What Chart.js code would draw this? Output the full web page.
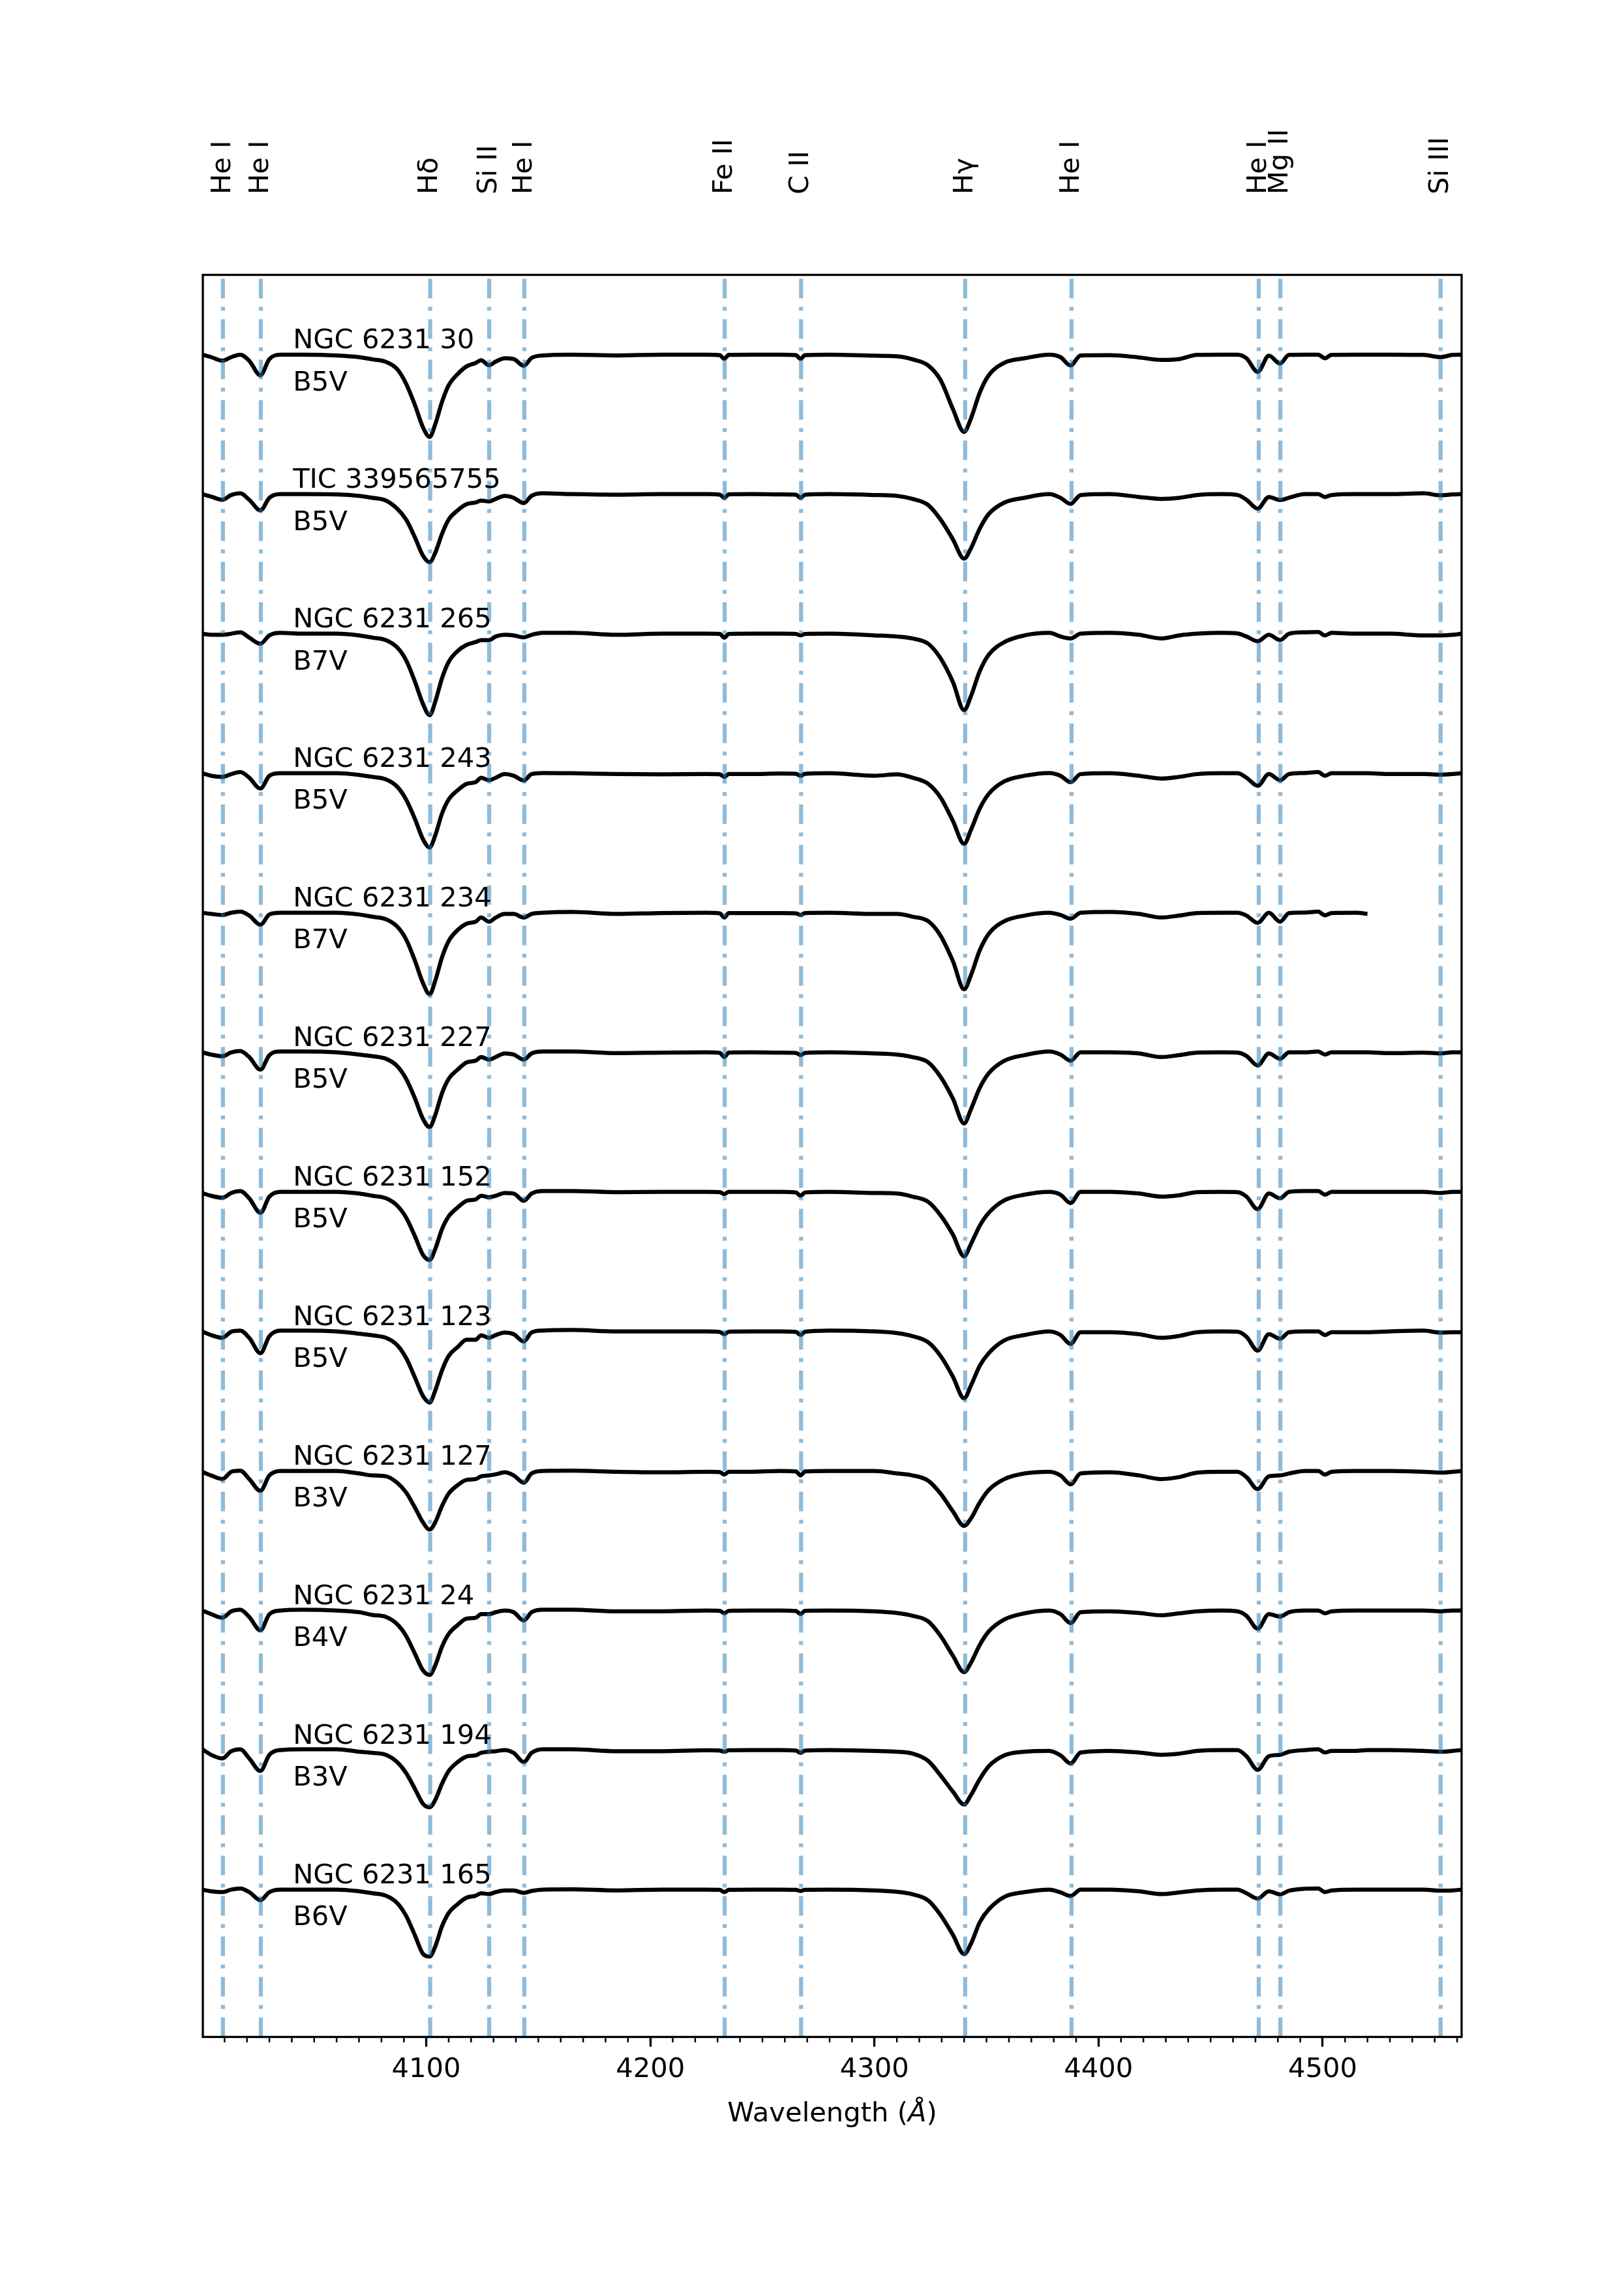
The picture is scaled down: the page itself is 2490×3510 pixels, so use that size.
<!DOCTYPE html>
<html><head><meta charset="utf-8">
<script src="https://cdn.jsdelivr.net/npm/chart.js@4.4.1/dist/chart.umd.min.js"></script>
<style>html,body{margin:0;padding:0;background:#fff;}canvas{display:block;}</style>
</head><body>
<canvas id="c" width="2490" height="3510"></canvas>
<script>
// Wavelength grid (Angstrom), shared by all spectra
const WAVE = [
 4000,4004,4009,4013,4017,4021,4026,4030,4035,4045,
 4060,4070,4076,4082,4087,4091,4095,4098.5,4101.5,4104,
 4107,4110,4114,4118,4122,4124.5,4128,4131,4135,4139,
 4143.5,4147,4152,4165,4185,4205,4225,4231,4233,4235,
 4245,4258,4265,4267,4269,4280,4300,4310,4317,4324,
 4329.5,4335,4340,4343,4347,4351,4358,4367,4378,4383,
 4387.5,4392,4405,4418,4428,4436,4444,4455,4462,4466,
 4471,4476,4481,4485,4492,4498,4501,4504,4515,4520,
 4530,4545,4552.5,4558,4562];

// Normalised flux for each star (before vertical offset)
const FLUX_NGC6231_30 = [
 1.000,0.991,0.978,0.991,1.000,0.978,0.926,0.984,1.000,1.000,
 0.997,0.991,0.983,0.974,0.948,0.896,0.818,0.740,0.705,0.750,
 0.830,0.890,0.930,0.958,0.970,0.980,0.962,0.975,0.987,0.984,
 0.960,0.988,0.997,1.000,0.997,1.000,1.000,0.998,0.985,0.999,
 1.000,1.000,0.998,0.985,0.998,1.000,0.996,0.994,0.983,0.961,
 0.909,0.805,0.723,0.770,0.864,0.926,0.971,0.987,1.000,0.991,
 0.961,0.997,0.998,0.990,0.981,0.984,0.999,1.000,1.000,0.987,
 0.938,0.996,0.968,0.999,1.000,1.000,0.987,0.999,1.000,1.000,
 1.000,0.999,0.991,0.999,1.000];
const FLUX_TIC339565755 = [
 1.000,0.991,0.980,0.997,1.003,0.980,0.942,0.987,1.000,1.000,
 0.999,0.994,0.987,0.977,0.948,0.909,0.844,0.780,0.756,0.790,
 0.857,0.909,0.942,0.964,0.970,0.977,0.974,0.983,0.994,0.987,
 0.968,0.994,1.003,1.000,0.998,1.000,1.000,0.998,0.987,0.999,
 1.000,0.999,0.998,0.987,0.998,1.000,0.997,0.994,0.983,0.961,
 0.909,0.838,0.769,0.805,0.877,0.929,0.970,0.987,1.000,0.987,
 0.965,0.997,1.000,0.990,0.983,0.987,0.997,1.000,0.997,0.980,
 0.948,0.990,0.979,0.987,1.000,1.000,0.990,0.997,1.000,1.000,
 1.000,1.003,0.996,0.999,1.000];
const FLUX_NGC6231_265 = [
 1.000,0.996,0.996,1.000,1.005,0.986,0.964,0.994,1.003,1.000,
 1.000,0.994,0.986,0.977,0.951,0.905,0.827,0.749,0.708,0.756,
 0.840,0.899,0.938,0.960,0.970,0.977,0.977,0.990,0.996,0.994,
 0.987,0.996,1.003,1.003,0.996,1.000,1.000,0.999,0.986,0.999,
 1.000,1.000,0.999,0.994,0.999,1.000,0.994,0.990,0.983,0.964,
 0.912,0.827,0.726,0.775,0.866,0.925,0.970,0.994,1.003,0.990,
 0.983,1.000,1.003,0.996,0.983,0.994,1.000,1.003,1.001,0.990,
 0.973,0.996,0.977,1.000,1.005,1.006,0.994,1.003,1.000,1.000,
 1.000,0.994,0.994,0.996,1.000];
const FLUX_NGC6231_243 = [
 1.000,0.991,0.987,0.997,1.004,0.984,0.945,0.991,1.000,1.000,
 1.000,0.994,0.987,0.978,0.952,0.906,0.835,0.764,0.734,0.777,
 0.855,0.906,0.939,0.962,0.968,0.984,0.975,0.984,0.997,0.991,
 0.974,0.997,1.001,1.000,0.997,0.996,0.997,0.996,0.987,0.997,
 0.997,0.999,0.998,0.991,0.998,1.000,0.991,0.996,0.984,0.962,
 0.913,0.829,0.747,0.796,0.874,0.926,0.971,0.991,1.001,0.991,
 0.968,0.997,1.000,0.991,0.981,0.987,0.997,1.000,1.000,0.984,
 0.955,0.997,0.975,0.997,1.001,1.004,0.991,1.000,1.000,1.000,
 0.997,0.997,0.995,0.997,1.000];
const FLUX_NGC6231_234 = [
 1.000,0.996,0.992,1.000,1.004,0.990,0.957,0.994,1.000,1.000,
 1.000,0.994,0.986,0.977,0.951,0.905,0.827,0.749,0.708,0.756,
 0.840,0.899,0.938,0.961,0.968,0.983,0.968,0.983,0.996,0.996,
 0.983,0.996,1.000,1.003,0.996,0.999,1.000,0.998,0.983,0.999,
 0.999,0.999,0.998,0.992,0.999,1.000,0.996,0.996,0.986,0.970,
 0.918,0.827,0.726,0.775,0.866,0.925,0.970,0.990,1.000,0.992,
 0.979,1.000,1.003,0.996,0.983,0.990,0.999,1.000,1.000,0.990,
 0.964,1.000,0.968,0.999,1.001,1.004,0.991,0.999,1.000,0.996,
 null,null,null,null,null];
const FLUX_NGC6231_227 = [
 1.000,0.992,0.986,1.000,1.005,0.983,0.938,0.990,1.003,1.003,
 1.000,0.992,0.986,0.977,0.951,0.905,0.834,0.762,0.732,0.775,
 0.853,0.905,0.938,0.964,0.970,0.983,0.974,0.983,0.996,0.992,
 0.974,0.996,1.003,1.003,0.997,0.999,1.000,0.998,0.983,0.999,
 1.000,0.999,0.998,0.990,0.998,1.000,0.996,0.992,0.983,0.964,
 0.912,0.834,0.745,0.795,0.873,0.925,0.970,0.990,1.003,0.992,
 0.970,1.000,1.000,0.996,0.983,0.990,0.999,1.000,0.999,0.987,
 0.953,0.996,0.977,1.000,1.000,1.003,0.992,1.000,1.000,1.000,
 0.997,0.999,0.996,1.000,1.000];
const FLUX_NGC6231_152 = [
 0.996,0.986,0.979,0.996,1.003,0.977,0.925,0.983,1.000,1.000,
 1.000,0.994,0.986,0.977,0.951,0.908,0.840,0.775,0.756,0.795,
 0.866,0.912,0.944,0.968,0.973,0.986,0.981,0.986,0.996,0.994,
 0.968,0.994,1.003,1.003,0.999,1.000,1.000,0.999,0.992,1.000,
 1.000,1.000,0.998,0.986,0.998,1.000,0.996,0.994,0.983,0.964,
 0.916,0.847,0.769,0.812,0.879,0.925,0.970,0.990,1.000,0.990,
 0.960,1.000,1.000,0.994,0.983,0.988,0.999,1.000,0.999,0.983,
 0.938,0.994,0.977,1.000,1.003,1.003,0.990,1.000,1.000,1.000,
 1.000,1.000,0.996,1.000,1.000];
const FLUX_NGC6231_123 = [
 1.000,0.987,0.977,0.999,1.003,0.977,0.922,0.983,1.003,1.003,
 1.000,0.992,0.986,0.977,0.951,0.905,0.834,0.769,0.745,0.788,
 0.860,0.912,0.944,0.970,0.970,0.986,0.977,0.987,0.996,0.990,
 0.964,0.996,1.003,1.005,1.000,1.000,1.000,0.998,0.990,0.999,
 1.000,1.000,0.998,0.987,0.999,1.003,1.000,0.994,0.983,0.961,
 0.912,0.838,0.760,0.805,0.877,0.922,0.968,0.987,1.000,0.987,
 0.955,0.997,0.997,0.990,0.977,0.984,0.997,1.000,0.999,0.981,
 0.931,0.990,0.974,0.997,1.000,1.000,0.987,0.997,0.997,0.997,
 1.000,1.003,0.996,0.997,0.997];
const FLUX_NGC6231_127 = [
 0.997,0.984,0.971,0.997,1.001,0.971,0.929,0.984,1.000,1.000,
 1.000,0.991,0.984,0.981,0.958,0.923,0.868,0.816,0.790,0.816,
 0.874,0.919,0.949,0.968,0.971,0.981,0.984,0.988,0.995,0.984,
 0.958,0.991,1.000,1.001,0.997,0.995,0.997,0.996,0.987,0.997,
 0.997,1.000,0.998,0.984,0.998,1.000,1.000,0.991,0.984,0.965,
 0.919,0.855,0.803,0.829,0.887,0.932,0.971,0.991,0.997,0.984,
 0.952,0.991,0.995,0.984,0.971,0.978,0.994,0.997,0.997,0.978,
 0.935,0.981,0.984,0.991,1.000,1.000,0.987,0.997,1.000,1.000,
 1.000,0.997,0.994,0.997,1.000];
const FLUX_NGC6231_24 = [
 1.000,0.987,0.974,0.997,1.003,0.977,0.929,0.987,1.000,1.003,
 1.000,0.994,0.984,0.977,0.951,0.909,0.844,0.786,0.769,0.803,
 0.870,0.916,0.948,0.971,0.974,0.987,0.987,0.994,1.000,0.994,
 0.964,0.994,1.003,1.003,0.997,0.997,1.000,0.999,0.990,0.999,
 1.000,1.000,0.998,0.987,0.999,1.000,0.997,0.991,0.981,0.961,
 0.909,0.838,0.779,0.812,0.877,0.925,0.968,0.990,1.000,0.987,
 0.955,0.994,0.997,0.991,0.983,0.990,0.997,1.000,0.997,0.981,
 0.935,0.987,0.978,0.994,1.000,1.000,0.990,0.997,1.000,1.000,
 1.000,1.000,0.997,1.000,1.000];
const FLUX_NGC6231_194 = [
 1.003,0.983,0.970,0.996,1.003,0.970,0.925,0.983,1.000,1.003,
 1.003,0.994,0.990,0.983,0.957,0.918,0.860,0.808,0.795,0.821,
 0.879,0.925,0.957,0.977,0.981,0.990,0.994,0.996,1.000,0.990,
 0.957,0.990,1.003,1.003,0.996,0.996,0.999,0.998,0.994,0.999,
 1.000,1.000,0.998,0.990,0.998,1.000,0.997,0.994,0.987,0.961,
 0.909,0.851,0.805,0.838,0.896,0.942,0.981,0.994,0.997,0.981,
 0.952,0.991,0.997,0.991,0.983,0.987,0.997,1.000,1.000,0.978,
 0.929,0.978,0.983,0.994,1.000,1.003,0.991,0.997,0.997,1.000,
 1.000,0.997,0.994,0.997,1.000];
const FLUX_NGC6231_165 = [
 1.000,0.994,0.991,1.000,1.004,0.991,0.962,0.991,1.000,1.000,
 1.000,0.994,0.987,0.978,0.952,0.906,0.835,0.770,0.760,0.796,
 0.868,0.916,0.948,0.971,0.978,0.987,0.984,0.991,0.997,0.997,
 0.988,0.995,1.000,1.001,0.997,1.000,1.000,0.999,0.991,0.999,
 1.000,1.000,0.999,0.995,0.999,1.000,0.997,0.992,0.983,0.961,
 0.909,0.838,0.769,0.805,0.883,0.929,0.974,0.991,1.000,0.990,
 0.977,1.000,1.000,0.994,0.984,0.990,0.997,1.000,1.000,0.987,
 0.968,0.994,0.983,0.996,1.003,1.004,0.991,0.997,1.000,1.000,
 1.000,1.000,0.996,0.997,1.000];

const SPECTRA = [FLUX_NGC6231_30, FLUX_TIC339565755, FLUX_NGC6231_265, FLUX_NGC6231_243,
  FLUX_NGC6231_234, FLUX_NGC6231_227, FLUX_NGC6231_152, FLUX_NGC6231_123,
  FLUX_NGC6231_127, FLUX_NGC6231_24, FLUX_NGC6231_194, FLUX_NGC6231_165];
const STAR_NAMES = ['NGC 6231 30','TIC 339565755','NGC 6231 265','NGC 6231 243','NGC 6231 234',
  'NGC 6231 227','NGC 6231 152','NGC 6231 123','NGC 6231 127','NGC 6231 24','NGC 6231 194','NGC 6231 165'];
const SPEC_TYPES = ['B5V','B5V','B7V','B5V','B7V','B5V','B5V','B5V','B3V','B4V','B3V','B6V'];
const OFFSET = 0.5;

const LINE_WAVES = [4009.26, 4026.19, 4101.74, 4128.07, 4143.76, 4233.17, 4267.26, 4340.47, 4387.93, 4471.48, 4481.13, 4552.62];
const LINE_LABELS = ['He I','He I','Hδ','Si II','He I','Fe II','C II','Hγ','He I','He I','Mg II','Si III'];
const X_TICKS = [4100, 4200, 4300, 4400, 4500];
const X_MINOR_STEP = 10;
const X_MIN = 4000.3, X_MAX = 4562;
const Y_MIN = -5.028, Y_MAX = 1.2857;

const FONT = "'DejaVu Sans'";
const FS = 41.67;

const datasets = SPECTRA.map((flux, i) => ({
  label: STAR_NAMES[i],
  data: WAVE.map((w, j) => ({ x: w, y: flux[j] === null ? null : flux[j] - i * OFFSET })),
  borderColor: '#000', borderWidth: 6.25, pointRadius: 0, fill: false,
  cubicInterpolationMode: 'monotone', spanGaps: false, borderJoinStyle: 'round'
}));

const overlay = {
  id: 'overlay',
  afterDatasetsDraw(chart) {
    const { ctx, chartArea: a, scales: { x, y } } = chart;
    ctx.save();
    // dash-dot line markers
    ctx.strokeStyle = 'rgba(31,119,180,0.5)';
    ctx.lineWidth = 6.25;
    ctx.lineCap = 'butt';
    ctx.setLineDash([30, 13, 6, 13]);
    LINE_WAVES.forEach(w => {
      const px = x.getPixelForValue(w);
      ctx.beginPath(); ctx.moveTo(px, a.bottom); ctx.lineTo(px, a.top); ctx.stroke();
    });
    ctx.setLineDash([]);
    // star names & spectral types
    ctx.fillStyle = '#000';
    ctx.font = FS + 'px ' + FONT;
    ctx.textAlign = 'left'; ctx.textBaseline = 'alphabetic';
    STAR_NAMES.forEach((n, i) => {
      const lvl = 1 - i * OFFSET;
      const px = x.getPixelForValue(4040.5);
      ctx.fillText(n, px, y.getPixelForValue(lvl + 0.023));
      ctx.fillText(SPEC_TYPES[i], px, y.getPixelForValue(lvl - 0.128));
    });
    // frame
    ctx.strokeStyle = '#000'; ctx.lineWidth = 3.33;
    ctx.strokeRect(a.left, a.top, a.right - a.left, a.bottom - a.top);
    // minor ticks
    ctx.lineWidth = 2.5;
    for (let v = Math.ceil(X_MIN / X_MINOR_STEP) * X_MINOR_STEP; v <= X_MAX; v += X_MINOR_STEP) {
      if (X_TICKS.includes(v)) continue;
      const px = x.getPixelForValue(v);
      ctx.beginPath(); ctx.moveTo(px, a.bottom + 1.6); ctx.lineTo(px, a.bottom + 8.3); ctx.stroke();
    }
    // rotated line labels above the axes
    LINE_LABELS.forEach((t, i) => {
      const px = x.getPixelForValue(LINE_WAVES[i]);
      ctx.save(); ctx.translate(px + 10.8, 298); ctx.rotate(-Math.PI / 2);
      ctx.fillText(t, 0, 0); ctx.restore();
    });
    // x-axis title with italic Angstrom
    const p1 = 'Wavelength (', p2 = 'Å', p3 = ')';
    ctx.font = FS + 'px ' + FONT;
    const w1 = ctx.measureText(p1).width, w3 = ctx.measureText(p3).width;
    ctx.font = 'italic ' + FS + 'px ' + FONT;
    const w2 = ctx.measureText(p2).width;
    let sx = (a.left + a.right) / 2 - (w1 + w2 + w3) / 2;
    const by = a.bottom + 129.5;
    ctx.font = FS + 'px ' + FONT; ctx.fillText(p1, sx, by); sx += w1;
    ctx.font = 'italic ' + FS + 'px ' + FONT; ctx.fillText(p2, sx, by); sx += w2;
    ctx.font = FS + 'px ' + FONT; ctx.fillText(p3, sx, by);
    ctx.restore();
  }
};

new Chart(document.getElementById('c'), {
  type: 'line',
  data: { datasets },
  options: {
    responsive: false, maintainAspectRatio: false, devicePixelRatio: 1, animation: false,
    layout: { padding: { left: 311, right: 249, top: 421.5, bottom: 3510 - 3123.5 - 80 } },
    plugins: { legend: { display: false }, tooltip: { enabled: false } },
    scales: {
      x: {
        type: 'linear', min: X_MIN, max: X_MAX,
        afterBuildTicks: s => { s.ticks = X_TICKS.map(v => ({ value: v })); },
        afterFit: s => { s.height = 80; },
        grid: { display: true, drawOnChartArea: false, drawTicks: true, tickLength: 15, tickWidth: 3.33, tickColor: '#000' },
        border: { display: false },
        ticks: { color: '#000', padding: 11, maxRotation: 0, autoSkip: false,
                 font: { family: FONT, size: FS }, callback: v => String(v) }
      },
      y: { type: 'linear', display: false, min: Y_MIN, max: Y_MAX }
    }
  },
  plugins: [overlay]
});
</script>
</body></html>
